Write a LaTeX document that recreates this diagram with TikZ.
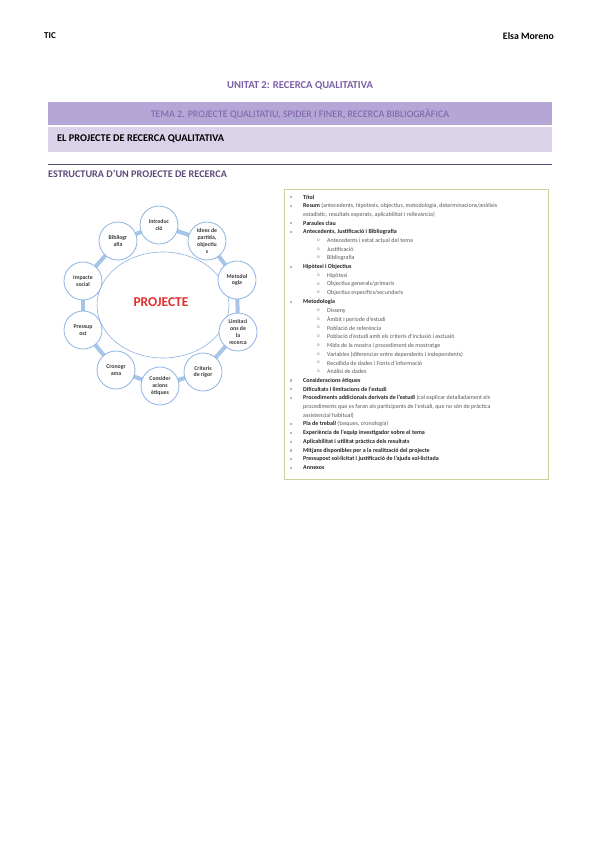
\documentclass[tikz,border=0pt]{standalone}
\usepackage{fontspec}
\setmainfont{Carlito}
\usetikzlibrary{shapes.geometric,backgrounds}
\definecolor{titlepurple}{HTML}{7A5FA6}
\definecolor{darkpurple}{HTML}{5F497A}
\definecolor{bandA}{HTML}{B4A7D6}
\definecolor{bandB}{HTML}{D9D2E9}
\definecolor{circborder}{HTML}{8DB3E2}
\definecolor{connblue}{HTML}{A7C5E8}
\definecolor{projred}{HTML}{E0302A}
\definecolor{boxgreen}{HTML}{C3D69B}
\definecolor{listdark}{HTML}{262626}
\definecolor{listgray}{HTML}{595959}
\definecolor{circtext}{HTML}{3A3A3A}
\tikzset{
  hdr/.style={inner sep=0, font=\fontsize{9}{11}\selectfont\bfseries},
  spider/.style={circle, draw=circborder, line width=0.8pt, fill=white, minimum size=38pt, inner sep=0pt,
    align=center, text=circtext, font=\fontsize{5.8}{6.7}\selectfont\bfseries},
  conn/.style={draw=connblue, line width=4pt},
  bul/.style={rectangle, fill=gray!55, minimum size=2.2pt, inner sep=0pt},
  subbul/.style={inner sep=0pt, text=gray, font=\fontsize{5}{6}\selectfont},
  itemtext/.style={anchor=west, inner sep=0pt, text=listgray, font=\fontsize{6}{7}\selectfont},
}
\newcommand\lstmain[2]{%
  \node[bul] (b#1) at (291,{197+(#1-1)*8.74}) {};
  \node[itemtext] (l#1) at (303,{197+(#1-1)*8.74}) {#2};}
\newcommand\lstcont[2]{%
  \node[itemtext] (l#1) at (303,{197+(#1-1)*8.74}) {#2};}
\newcommand\lstsub[2]{%
  \node[subbul] (b#1) at (318.5,{196.6+(#1-1)*8.74}) {o};
  \node[itemtext] (l#1) at (327,{197+(#1-1)*8.74}) {#2};}
\newcommand\bt[1]{\textcolor{listdark}{\textbf{#1}}}
\begin{document}
\begin{tikzpicture}[x=1pt,y=-1pt]
\useasboundingbox (0,0) rectangle (600,848);
\begin{scope}[on background layer]
\fill[white] (0,0) rectangle (600,848);
\end{scope}

% header
\node[hdr, anchor=west] (tic) at (44,36) {TIC};
\node[hdr, anchor=east, font=\fontsize{9.8}{11}\selectfont\bfseries] (author) at (554,36) {Elsa Moreno};
\node[inner sep=0, text=titlepurple, font=\fontsize{10.6}{12}\selectfont\bfseries] (unitat) at (300,86) {UNITAT 2: RECERCA QUALITATIVA};
\node[fill=bandA, minimum width=504pt, minimum height=23pt, inner sep=0, text=titlepurple,
      font=\fontsize{10}{12}\selectfont] (tema) at (300,113.5) {TEMA 2. PROJECTE QUALITATIU, SPIDER I FINER, RECERCA BIBLIOGRÀFICA};
\node[fill=bandB, minimum width=504pt, minimum height=24pt, inner sep=0] (band2) at (300,139.5) {};
\node[anchor=west, inner sep=0, font=\fontsize{10.3}{12}\selectfont\bfseries] (elproj) at (57,139) {EL PROJECTE DE RECERCA QUALITATIVA};
\draw[darkpurple, line width=0.8pt] (48,164) -- (552,164);
\node[anchor=west, inner sep=0, text=darkpurple, font=\fontsize{10.2}{12}\selectfont\bfseries] (estr) at (48,174) {ESTRUCTURA D'UN PROJECTE DE RECERCA};

% spider diagram
\node[ellipse, draw=circborder, line width=0.6pt, minimum width=132pt, minimum height=106pt, inner sep=0] (big) at (163,305) {};
\node[inner sep=0, text=projred, font=\fontsize{13.5}{15}\selectfont\bfseries] (proj) at (161,302) {PROJECTE};

\node[spider] (intro) at (159,225) {introduc\\ció};
\node[spider] (idees) at (207,241) {Idees de\\partida,\\objectiu\\s};
\node[spider] (metod) at (237,280) {Metodol\\ogia};
\node[spider] (limit) at (238,332) {Limitaci\\ons de\\la\\recerca};
\node[spider] (crit) at (203,372) {Criteris\\de rigor};
\node[spider] (consid) at (160,386) {Consider\\acions\\ètiques};
\node[spider] (crono) at (116,370) {Cronogr\\ama};
\node[spider] (press) at (83,330) {Pressup\\ost};
\node[spider] (impacte) at (83,281) {Impacte\\social};
\node[spider] (biblio) at (118,241) {Bibliogr\\afia};

\begin{scope}[on background layer]
\draw[conn] (intro.center) -- (idees.center);
\draw[conn] (idees.center) -- (metod.center);
\draw[conn] (metod.center) -- (limit.center);
\draw[conn] (limit.center) -- (crit.center);
\draw[conn] (crit.center) -- (consid.center);
\draw[conn] (consid.center) -- (crono.center);
\draw[conn] (crono.center) -- (press.center);
\draw[conn] (press.center) -- (impacte.center);
\draw[conn] (impacte.center) -- (biblio.center);
\draw[conn] (biblio.center) -- (intro.center);
\end{scope}

% list box
\node[draw=boxgreen, line width=0.9pt, minimum width=264pt, minimum height=290pt, inner sep=0, anchor=north west] (box) at (284,188.5) {};

\lstmain{1}{\bt{Títol}}
\lstmain{2}{\bt{Resum} (antecedents, hipòtesis, objectius, metodologia, determinacions/anàlisis}
\lstcont{3}{estadístic, resultats esperats, aplicabilitat i rellevància)}
\lstmain{4}{\bt{Paraules clau}}
\lstmain{5}{\bt{Antecedents, Justificació i Bibliografia}}
\lstsub{6}{Antecedents i estat actual del tema}
\lstsub{7}{Justificació}
\lstsub{8}{Bibliografia}
\lstmain{9}{\bt{Hipòtesi i Objectius}}
\lstsub{10}{Hipòtesi}
\lstsub{11}{Objectius generals/primaris}
\lstsub{12}{Objectius específics/secundaris}
\lstmain{13}{\bt{Metodologia}}
\lstsub{14}{Disseny}
\lstsub{15}{Àmbit i període d'estudi}
\lstsub{16}{Població de referència}
\lstsub{17}{Població d'estudi amb els criteris d'inclusió i exclusió}
\lstsub{18}{Mida de la mostra i procediment de mostratge}
\lstsub{19}{Variables (diferenciar entre dependents i independents)}
\lstsub{20}{Recollida de dades i Fonts d'informació}
\lstsub{21}{Anàlisi de dades}
\lstmain{22}{\bt{Consideracions ètiques}}
\lstmain{23}{\bt{Dificultats i limitacions de l'estudi}}
\lstmain{24}{\bt{Procediments addicionals derivats de l'estudi} (cal explicar detalladament els}
\lstcont{25}{procediments que es faran als participants de l'estudi, que no són de pràctica}
\lstcont{26}{assistencial habitual)}
\lstmain{27}{\bt{Pla de treball} (tasques, cronologia)}
\lstmain{28}{\bt{Experiència de l'equip investigador sobre el tema}}
\lstmain{29}{\bt{Aplicabilitat i utilitat pràctica dels resultats}}
\lstmain{30}{\bt{Mitjans disponibles per a la realització del projecte}}
\lstmain{31}{\bt{Pressupost sol·licitat i justificació de l'ajuda sol·licitada}}
\lstmain{32}{\bt{Annexos}}
\end{tikzpicture}
\end{document}
